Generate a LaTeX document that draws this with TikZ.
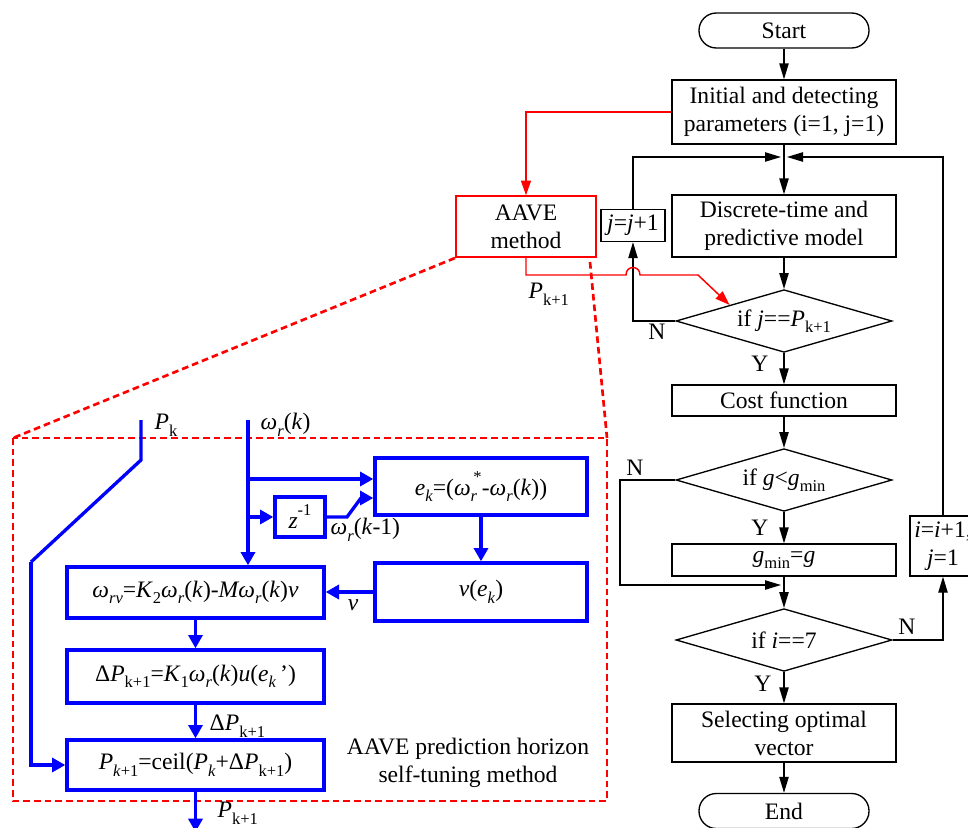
\documentclass[tikz,border=0pt]{standalone}
\usepackage{fontspec}
\setmainfont{Liberation Serif}
\usetikzlibrary{arrows.meta,shapes.geometric,calc}
\newcommand\sbs[1]{\raisebox{-0.28em}{\fontsize{12.4}{12.4}\selectfont #1}}
\newcommand\sps[1]{\raisebox{0.55em}{\fontsize{12.4}{12.4}\selectfont #1}}
\newcommand\mi[1]{\textit{#1}}
\tikzset{
  fbox/.style={draw, line width=1pt, minimum width=168pt, align=center, inner sep=1pt},
  term/.style={draw, line width=1pt, rounded corners=13pt, minimum width=127.5pt, minimum height=26.25pt, inner sep=0pt},
  dia/.style={draw, line width=1pt, diamond, minimum width=162pt, minimum height=47pt, inner sep=0pt},
  arr/.style={line width=1pt, -{Triangle[length=12pt,width=7pt]}},
  plain/.style={inner sep=0pt},
  bbox/.style={draw=blue, line width=2.5pt, align=center, inner sep=0pt},
  barr/.style={blue, line width=2.5pt, -{Triangle[length=10pt,width=10.5pt]}},
  bline/.style={blue, line width=2.5pt},
  rbox/.style={draw=red, line width=1.1pt, align=center, inner sep=0pt},
  rarr/.style={red, line width=1.1pt, -{Triangle[length=11pt,width=7.5pt]}},
  rdash/.style={red, line width=2pt, dash pattern=on 5pt off 3pt}
}
\begin{document}
\begin{tikzpicture}[x=0.75pt,y=-0.75pt, font=\fontsize{17.7}{21}\selectfont]
\useasboundingbox (0,0) rectangle (968,828);

% ---------- right flowchart ----------
\node[term] (start) at (784,30.5) {Start};
\node[fbox, minimum height=48pt] (init) at (784,112) {Initial and detecting\\parameters (i=1, j=1)};
\node[fbox, minimum height=46.5pt] (disc) at (784,226) {Discrete-time and\\predictive model};
\node[dia] (d1) at (784,321) {};
\node[plain] (d1t) at (d1) {if \mi{j}==\mi{P}\sbs{k+1}};
\node[fbox, minimum height=23.25pt] (cost) at (784,400.5) {Cost function};
\node[dia] (d2) at (784,480) {};
\node[plain] (d2t) at (d2) {if \mi{g}<\mi{g}\sbs{min}};
\node[fbox, minimum height=24pt] (gmin) at (784,560) {\mi{g}\sbs{min}=\mi{g}};
\node[dia] (d3) at (784,640) {};
\node[plain] (d3t) at (d3) {if \mi{i}==7};
\node[fbox, minimum height=43.5pt] (sel) at (784,733) {Selecting optimal\\vector};
\node[term] (end) at (784,811) {End};
\node[fbox, minimum width=48pt, minimum height=24pt] (jbox) at (633,225.5) {\mi{j}=\mi{j}+1};
\node[fbox, minimum width=49.5pt, minimum height=45pt] (ibox) at (943,546) {\mi{i}=\mi{i}+1,\\\mi{j}=1};

\coordinate (mL) at (781,157);
\coordinate (mR) at (787,157);
\coordinate (n2) at (620,480);
\coordinate (mg) at (781,585);

\draw[arr] (start.south) -- (init.north);
\draw[arr] (init.south) -- (disc.north);
\draw[arr] (disc.south) -- (d1.north);
\draw[arr] (d1.south) -- (cost.north);
\draw[arr] (cost.south) -- (d2.north);
\draw[arr] (d2.south) -- (gmin.north);
\draw[arr] (gmin.south) -- (d3.north);
\draw[arr] (d3.south) -- (sel.north);
\draw[arr] (sel.south) -- (end.north);
\draw[arr] (d1.west) -| (jbox.south);
\draw[arr] (jbox.north) |- (mL);
\draw[arr] (ibox.north) |- (mR);
\draw[arr] (d2.west) -- (n2) |- (mg);
\draw[arr] (d3.east) -| (ibox.south);

\node (N1) at (657,332) {N};
\node (Y1) at (760,364) {Y};
\node (N2) at (635,468) {N};
\node (Y2) at (760,528) {Y};
\node (N3) at (907,627) {N};
\node (Y3) at (763,684) {Y};

% ---------- red part ----------
\node[rbox, minimum width=105pt, minimum height=45.75pt] (aave) at (526,226.5) {AAVE\\method};
\draw[rarr] (init.west) -| (aave.north);
\coordinate (r1) at (526,275);
\coordinate (r2) at (626,275);
\coordinate (r3) at (640,275);
\coordinate (r4) at (698,275);
\draw[rarr] (aave.south) -- (r1) -- (r2) .. controls (626,265) and (640,265) .. (r3) -- (r4) -- (d1.north west);
\node[anchor=west] (lp1) at (524,294) {\mi{P}\sbs{k+1}};

\coordinate (dl0) at (455,258);
\coordinate (dr0) at (590,262);
\coordinate (bx1) at (13,438);
\coordinate (bx2) at (607,801);
\draw[rdash] (dl0) -- (bx1);
\draw[rdash] (dr0) -- (bx2 |- bx1);
\draw[rdash] (bx1) rectangle (bx2);

% ---------- blue part ----------
\node[bbox, minimum width=159pt, minimum height=42.75pt] (ek) at (481,486.5) {\mi{e}\sbs{\mi{k}}=(\mi{ω}\rlap{\sbs{\mi{r}}}\sps{\,*}-\mi{ω}\sbs{\mi{r}}(\mi{k}))};
\node[bbox, minimum width=159pt, minimum height=43.5pt] (ve) at (481,592) {\mi{v}(\mi{e}\sbs{\mi{k}})};
\node[bbox, minimum width=37.5pt, minimum height=30pt] (z) at (300,517) {\mi{z}\sps{-1}};
\node[bbox, minimum width=192.75pt, minimum height=38.25pt] (wrv) at (195.5,592.5) {\mi{ω}\sbs{\mi{rv}}=\mi{K}\sbs{2}\mi{ω}\sbs{\mi{r}}(\mi{k})-\mi{Mω}\sbs{\mi{r}}(\mi{k})\mi{v}};
\node[bbox, minimum width=192.75pt, minimum height=39.75pt] (dp) at (195.5,676.5) {Δ\mi{P}\sbs{k+1}=\mi{K}\sbs{1}\mi{ω}\sbs{\mi{r}}(\mi{k})\mi{u}(\mi{e}\sbs{\mi{k}}\,’)};
\node[bbox, minimum width=192.75pt, minimum height=37.5pt] (pk) at (195.5,765) {\mi{P}\sbs{\mi{k}+1}=ceil(\mi{P}\sbs{\mi{k}}+Δ\mi{P}\sbs{k+1})};

\coordinate (ptop) at (141,420);
\coordinate (pb1) at (141,460);
\coordinate (pb2) at (31,562);
\coordinate (wtop) at (248,420);
\coordinate (b1) at (248,479);
\coordinate (b2) at (248,517);
\coordinate (zb1) at (347,517);
\coordinate (zb2) at (361,498);
\coordinate (pout) at (195.5,832);

\draw[bline] (ptop) -- (pb1) -- (pb2);
\draw[barr] (pb2) |- (pk.west);
\draw[barr] (wtop) -- (wtop |- wrv.north);
\draw[barr] (b1) -- (b1 -| ek.west);
\draw[barr] (b2) -- (z.west);
\draw[barr] (z.east) -- (zb1) -- (zb2) -- (zb2 -| ek.west);
\draw[barr] (ek.south) -- (ve.north);
\draw[barr] (ve.west) -- (ve.west -| wrv.east);
\draw[barr] (wrv.south) -- (dp.north);
\draw[barr] (dp.south) -- (pk.north);
\draw[barr] (pk.south) -- (pout);

\node[anchor=west] (lpk) at (150,425) {\mi{P}\sbs{k}};
\node[anchor=west] (lw) at (256,425) {\mi{ω}\sbs{\mi{r}}(\mi{k})};
\node[anchor=west] (lw1) at (326,530) {\mi{ω}\sbs{\mi{r}}(\mi{k}-1)};
\node (lv) at (353,605) {\mi{v}};
\node[anchor=west] (ldp) at (205,726) {Δ\mi{P}\sbs{k+1}};
\node[anchor=west] (lpo) at (213,813) {\mi{P}\sbs{k+1}};
\node[align=center] (title) at (468,763) {AAVE prediction horizon\\self-tuning method};
\end{tikzpicture}
\end{document}
